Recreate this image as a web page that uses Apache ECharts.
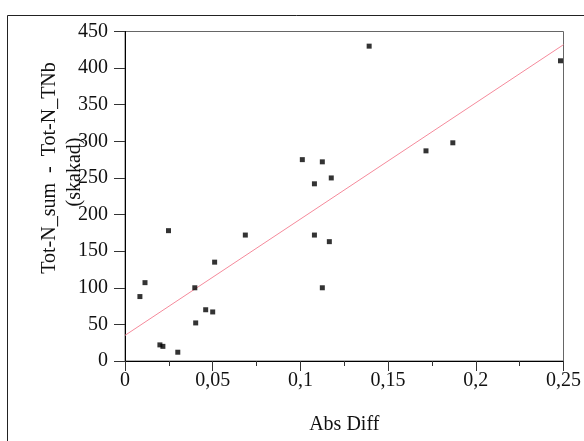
<!DOCTYPE html>
<html><head><meta charset="utf-8">
<script src="https://cdn.jsdelivr.net/npm/echarts@6/dist/echarts.min.js"></script>
<style>html,body{margin:0;padding:0;background:#fff}#c{width:584px;height:441px}</style>
</head><body><div id="c"></div>
<script>
const absDiff = [0.0085,0.0114,0.0248,0.0199,0.0216,0.0301,0.0398,0.0403,0.046,0.050,0.0511,0.0686,0.108,0.108,0.1165,0.1125,0.1011,0.1125,0.1176,0.1392,0.1716,0.1869,0.2483];
const totN   = [88,107,178,22,20,12,100,52,70,67,135,172,242,172,163,100,275,272,250,430,287,298,410];
const fitX = [0, 0.25];
const fitY = [35, 432];
const xTicks = ['0','0,05','0,1','0,15','0,2','0,25'];

const font = 'Liberation Serif';
const chart = echarts.init(document.getElementById('c'));
chart.setOption({
  animation:false,
  grid:{left:125,right:20,top:31.5,bottom:80,show:true,borderColor:'#666',borderWidth:1},
  xAxis:[{type:'value',min:0,max:0.25,interval:0.05,
    axisLine:{onZero:false,lineStyle:{color:'#000',width:1}},
    axisTick:{show:true,length:10,lineStyle:{color:'#333'}},
    minorTick:{show:true,splitNumber:2,length:5,lineStyle:{color:'#333'}},
    splitLine:{show:false},
    axisLabel:{margin:10,fontFamily:font,fontSize:20,color:'#111',showMinLabel:true,showMaxLabel:true,
      formatter:function(v){return xTicks[Math.round(v/0.05)];}},
    name:'Abs Diff',nameLocation:'middle',nameGap:54,nameTextStyle:{fontFamily:font,fontSize:20,color:'#111'}
  }],
  yAxis:[{type:'value',min:0,max:450,interval:50,
    axisLine:{onZero:false,lineStyle:{color:'#555',width:1}},
    axisTick:{show:true,length:11,lineStyle:{color:'#333'}},
    splitLine:{show:false},
    axisLabel:{margin:17,fontFamily:font,fontSize:20,color:'#111'}
  },{type:'value',min:0,max:450,interval:50,position:'right',
    axisLine:{show:true,lineStyle:{color:'#000'}},axisTick:{show:false},axisLabel:{show:false},splitLine:{show:false}}],
  series:[
    {type:'line',data:fitX.map((x,i)=>[x,fitY[i]]),symbol:'none',lineStyle:{color:'#f58a9b',width:1},z:2},
    {type:'scatter',data:absDiff.map((x,i)=>[x,totN[i]]),symbol:'rect',symbolSize:5,itemStyle:{color:'#000'},z:3}
  ],
  graphic:[
    {type:'rect',shape:{x:7.5,y:15.5,width:700,height:600},style:{fill:null,stroke:'#222',lineWidth:1},z:-1},
    {type:'text',x:50,y:168,rotation:Math.PI/2,style:{text:'Tot-N_sum  -  Tot-N_TNb',font:'20px "Liberation Serif"',fill:'#111',textAlign:'center',textVerticalAlign:'middle'}},
    {type:'text',x:75,y:172,rotation:Math.PI/2,style:{text:'(skakad)',font:'20px "Liberation Serif"',fill:'#111',textAlign:'center',textVerticalAlign:'middle'}}
  ]
});
</script></body></html>
